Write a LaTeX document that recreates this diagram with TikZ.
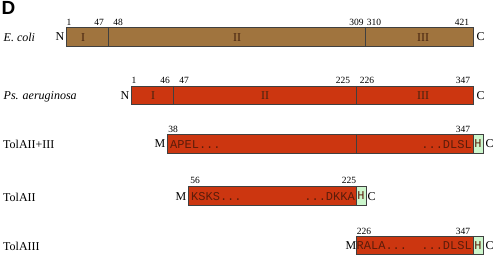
\documentclass[tikz,border=0pt]{standalone}
\usepackage{fontspec}
\setmainfont{Liberation Serif}
\setsansfont{Liberation Sans}
\setmonofont{Liberation Mono}
\definecolor{ecol}{RGB}{160,116,62}
\definecolor{pcol}{RGB}{204,54,16}
\definecolor{hcol}{RGB}{204,246,204}
\definecolor{seqc}{RGB}{90,28,10}
\definecolor{dom}{RGB}{70,35,15}
\begin{document}
\begin{tikzpicture}[x=1pt,y=-1pt,
  bar/.style={draw=black!75,line width=0.6pt},
  num/.style={font=\fontsize{9.5}{9.5}\selectfont,inner sep=0pt},
  term/.style={font=\fontsize{12}{12}\selectfont,inner sep=0pt},
  lab/.style={font=\fontsize{12}{12}\selectfont,inner sep=0pt,anchor=west},
  domlab/.style={font=\fontsize{12}{12}\selectfont,inner sep=0pt,text=dom},
  seq/.style={font=\ttfamily\fontsize{12}{12}\selectfont,inner sep=0pt,text=seqc},
  hbox/.style={draw=black!75,line width=0.6pt,fill=hcol,inner sep=0pt,text=seqc,font=\ttfamily\fontsize{12}{12}\selectfont}]
\useasboundingbox (0,0) rectangle (495,259);
\node[font=\sffamily\bfseries\fontsize{19}{19}\selectfont,inner sep=0pt,anchor=north west] (D) at (1.5,1.5) {D};

% E. coli
\draw[bar,fill=ecol] (66,27) rectangle (473,46);
\draw[black!75,line width=0.6pt] (108,27) -- (108,46);
\draw[black!75,line width=0.6pt] (365.5,27) -- (365.5,46);
\node[lab] (le) at (3.5,37) {\textit{E. coli}};
\node[term] (eN) at (60,37) {N};
\node[term] (eC) at (480.5,37) {C};
\node[domlab] (e1) at (83,37.5) {I};
\node[domlab] (e2) at (237,37.5) {II};
\node[domlab] (e3) at (423,37.5) {III};
\node[num] (en1) at (69,22) {1};
\node[num] (en2) at (99,22) {47};
\node[num] (en3) at (118,22) {48};
\node[num] (en4) at (356.5,22) {309};
\node[num] (en5) at (374,22) {310};
\node[num] (en6) at (462,22) {421};

% Ps. aeruginosa
\draw[bar,fill=pcol] (131,86) rectangle (473,104);
\draw[black!75,line width=0.6pt] (173,86) -- (173,104);
\draw[black!75,line width=0.6pt] (356.5,86) -- (356.5,104);
\node[lab] (lp) at (3.5,96.5) {\textit{Ps. aeruginosa}};
\node[term] (pN) at (125,96) {N};
\node[term] (pC) at (480.5,96) {C};
\node[domlab] (p1) at (153,96) {I};
\node[domlab] (p2) at (265,96) {II};
\node[domlab] (p3) at (423,96) {III};
\node[num] (pn1) at (134,80) {1};
\node[num] (pn2) at (165,80) {46};
\node[num] (pn3) at (184,80) {47};
\node[num] (pn4) at (343,80) {225};
\node[num] (pn5) at (367,80) {226};
\node[num] (pn6) at (463,80) {347};

% TolAII+III
\draw[bar,fill=pcol] (167,134) rectangle (473,153);
\draw[black!75,line width=0.6pt] (356.5,134) -- (356.5,153);
\node[hbox,minimum width=9.5pt,minimum height=19pt,anchor=north west] (h1) at (473,134) {H};
\node[lab] (l1) at (3,144) {TolAII+III};
\node[term] (aM) at (160,144) {M};
\node[term] (aC) at (489.5,144) {C};
\node[seq,anchor=west] (as1) at (170,144.5) {APEL...};
\node[seq,anchor=east] (as2) at (472,144.5) {...DLSL};
\node[num] (an1) at (173,129) {38};
\node[num] (an2) at (463,129) {347};

% TolAII
\draw[bar,fill=pcol] (188,186) rectangle (356,205);
\node[hbox,minimum width=9.5pt,minimum height=19pt,anchor=north west] (h2) at (356,186) {H};
\node[lab] (l2) at (3,197) {TolAII};
\node[term] (bM) at (181,197) {M};
\node[term] (bC) at (371.5,197) {C};
\node[seq,anchor=west] (bs1) at (191,197) {KSKS...};
\node[seq,anchor=east] (bs2) at (355,197) {...DKKA};
\node[num] (bn1) at (195,180) {56};
\node[num] (bn2) at (349,180) {225};

% TolAIII
\draw[bar,fill=pcol] (356,236) rectangle (473,254);
\node[hbox,minimum width=9.5pt,minimum height=18pt,anchor=north west] (h3) at (473,236) {H};
\node[lab] (l3) at (3,246) {TolAIII};
\node[term] (cM) at (351,245.5) {M};
\node[term] (cC) at (489.5,245.5) {C};
\node[seq,anchor=west] (cs1) at (356.5,245.5) {RALA...};
\node[seq,anchor=east] (cs2) at (472,245.5) {...DLSL};
\node[num] (cn1) at (364,231) {226};
\node[num] (cn2) at (463,231) {347};
\end{tikzpicture}
\end{document}
